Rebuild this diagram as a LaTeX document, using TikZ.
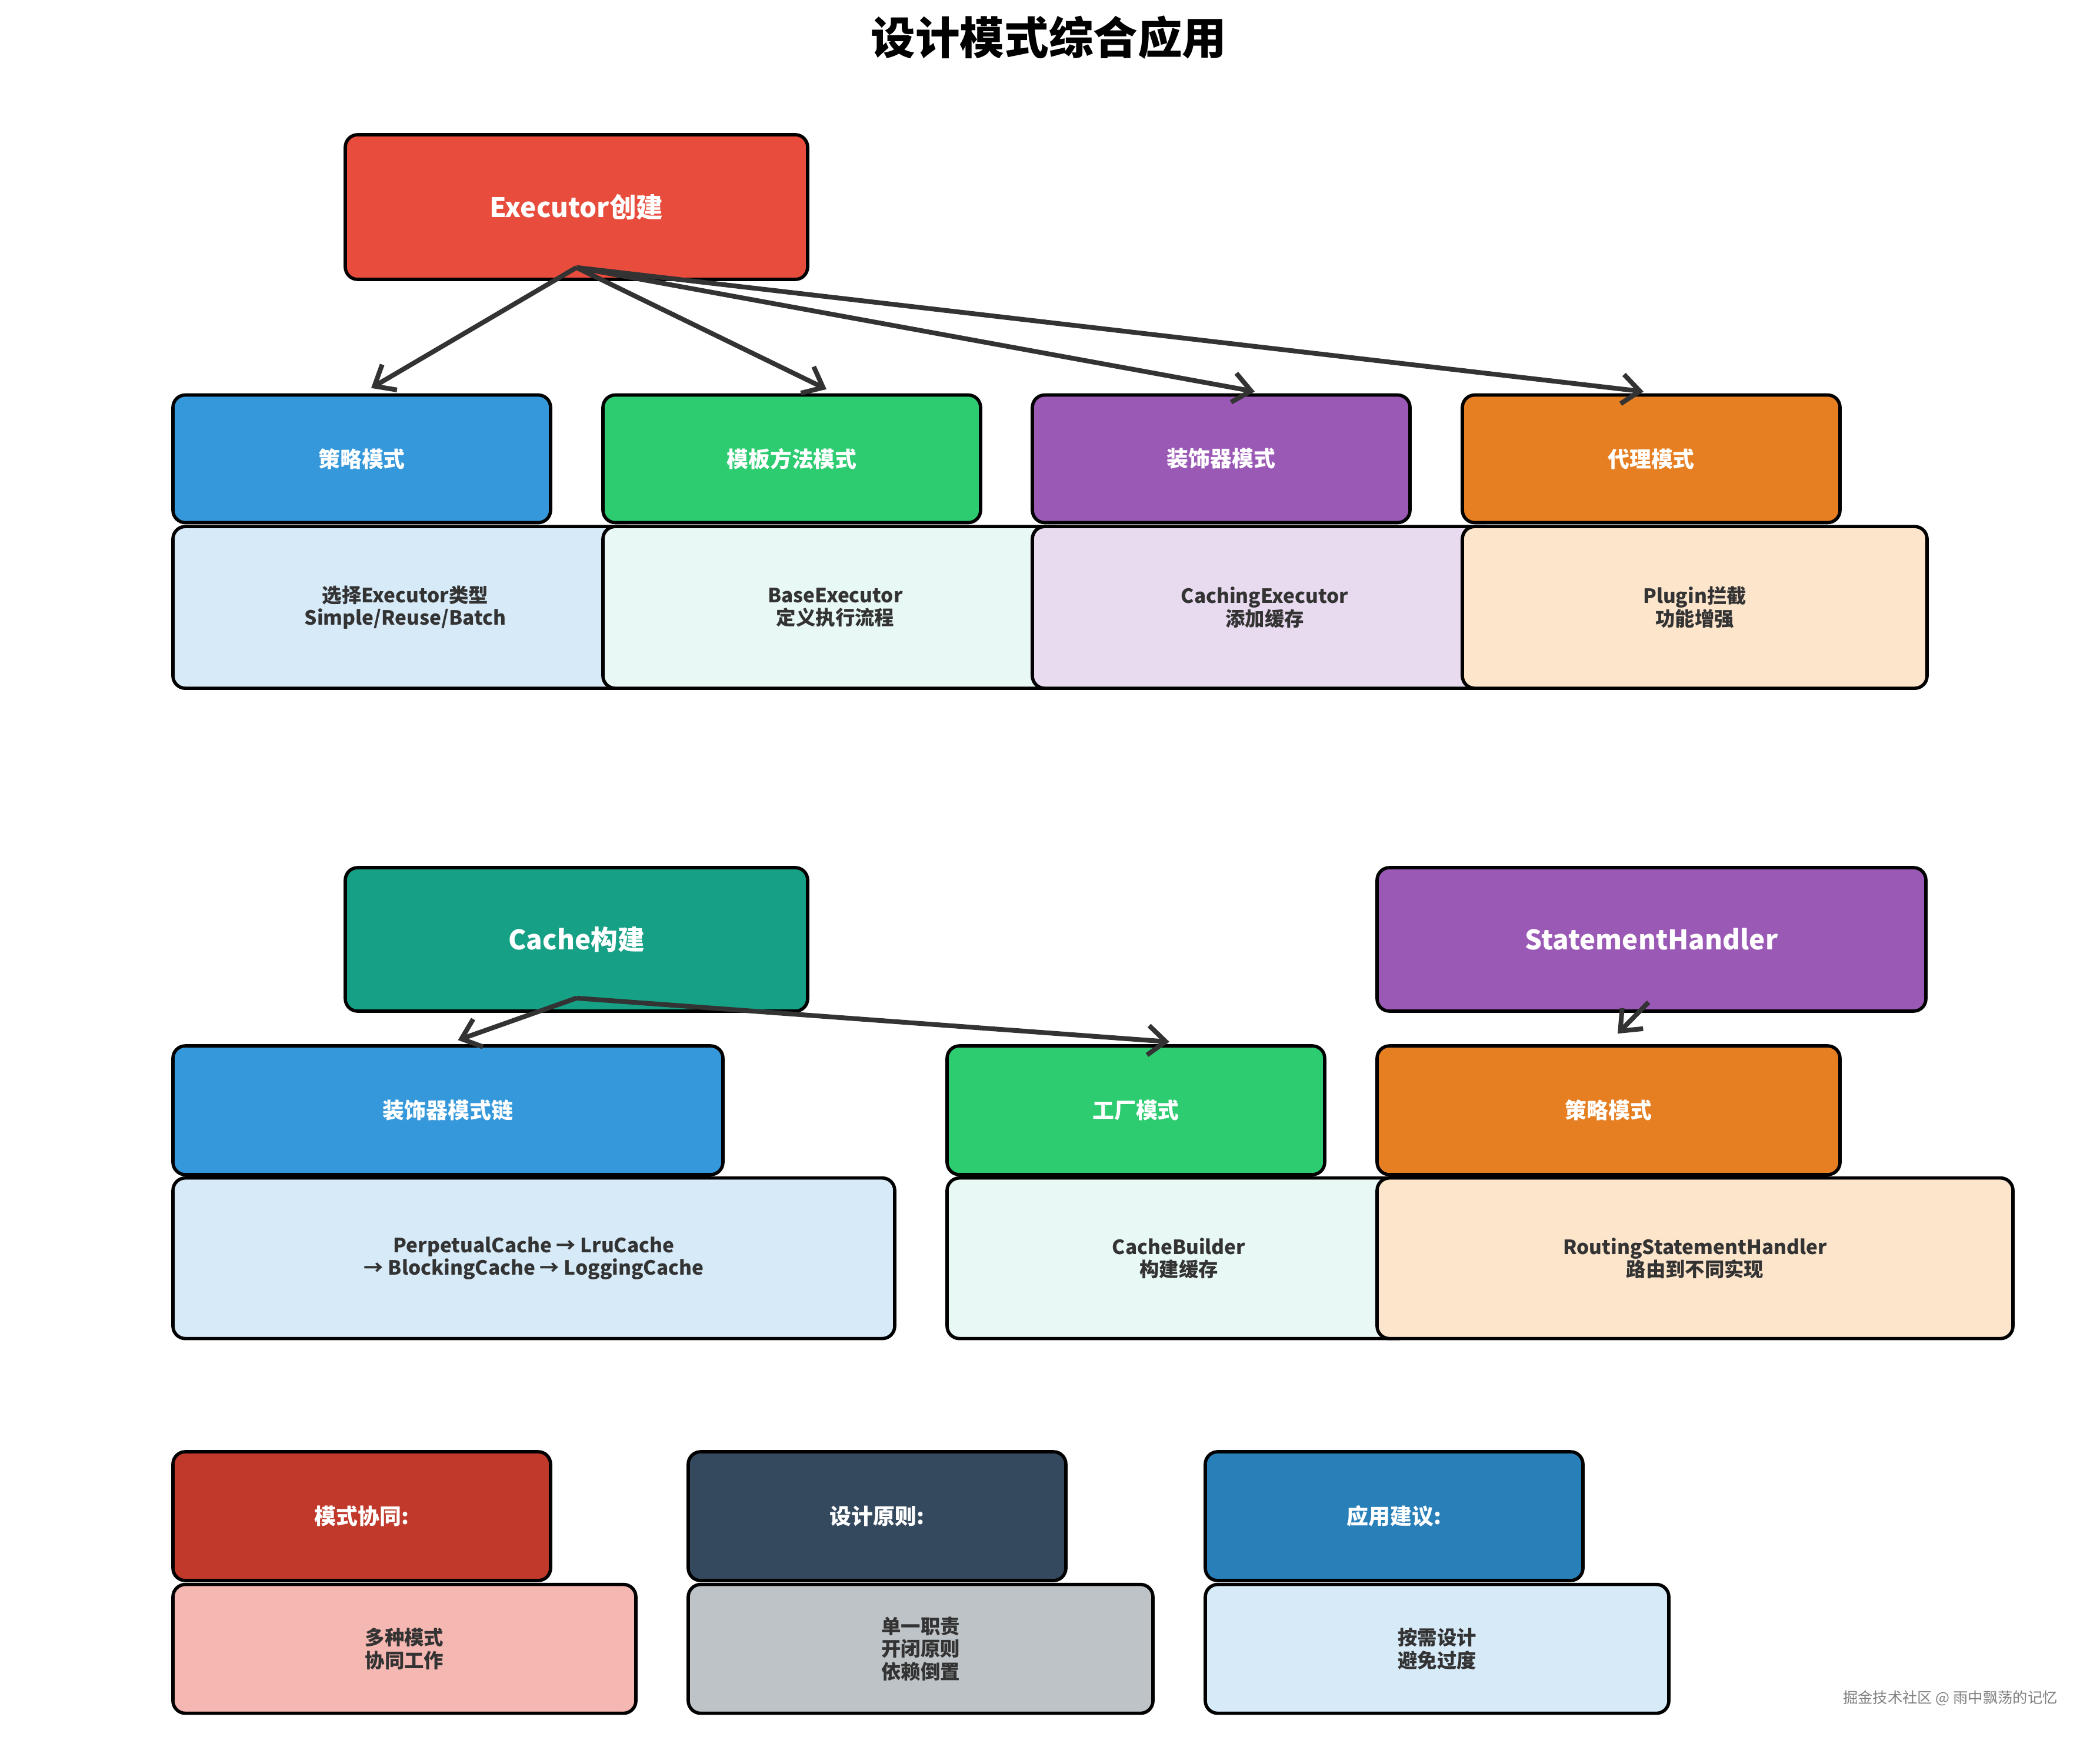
\documentclass[tikz,border=0pt]{standalone}
\usepackage{fontspec}
\setmainfont{Noto Sans CJK SC}
\usetikzlibrary{arrows.meta}

\definecolor{execred}{HTML}{E74C3C}
\definecolor{stratblue}{HTML}{3498DB}
\definecolor{tmplgreen}{HTML}{2ECC71}
\definecolor{decopurple}{HTML}{9B59B6}
\definecolor{proxyorange}{HTML}{E67E22}
\definecolor{cacheteal}{HTML}{16A085}
\definecolor{lightblue}{HTML}{D6EAF8}
\definecolor{lightgreen}{HTML}{E8F8F5}
\definecolor{lightpurple}{HTML}{E8DAEF}
\definecolor{lightorange}{HTML}{FDE5CB}
\definecolor{synred}{HTML}{C0392B}
\definecolor{prinslate}{HTML}{34495E}
\definecolor{advblue}{HTML}{2980B9}
\definecolor{lightpink}{HTML}{F5B7B1}
\definecolor{lightgray}{HTML}{BDC3C7}
\definecolor{txtgray}{HTML}{333333}
\definecolor{linkgray}{HTML}{333333}

\tikzset{
  box/.style={draw=black,line width=1.6pt,rounded corners=6pt,inner sep=0pt,align=center},
  mainbox/.style={box,text=white,font=\bfseries\fontsize{13}{15}\selectfont,minimum height=2.46cm},
  headbox/.style={box,text=white,font=\bfseries\fontsize{10.5}{12.5}\selectfont,minimum height=2.17cm},
  descbox/.style={box,text=txtgray,font=\bfseries\fontsize{9.5}{11}\selectfont,anchor=north west},
  link/.style={draw=linkgray,line width=2.3pt,-{Straight Barb[length=3mm,width=5mm,line width=2.3pt]}},
}

\begin{document}
\begin{tikzpicture}
  \fill[white] (0,0) rectangle (35.7,-29.7);
  \useasboundingbox (0,0) rectangle (35.7,-29.7);

  \node[font=\bfseries\fontsize{21.5}{25}\selectfont] (title) at (17.83,-0.64) {设计模式综合应用};

  % Executor
  \node[mainbox,fill=execred,minimum width=7.86cm] (exec) at (9.80,-3.52) {Executor创建};

  \node[headbox,fill=stratblue,minimum width=6.42cm] (strat) at (6.15,-7.80) {策略模式};
  \node[descbox,fill=lightblue,minimum width=7.90cm,minimum height=2.75cm] (stratd) at ([yshift=-0.01cm]strat.south west) {选择Executor类型\\Simple/Reuse/Batch};
  \node[headbox,fill=tmplgreen,minimum width=6.42cm] (tmpl) at (13.46,-7.80) {模板方法模式};
  \node[descbox,fill=lightgreen,minimum width=7.90cm,minimum height=2.75cm] (tmpld) at ([yshift=-0.01cm]tmpl.south west) {BaseExecutor\\定义执行流程};
  \node[headbox,fill=decopurple,minimum width=6.42cm] (deco) at (20.76,-7.80) {装饰器模式};
  \node[descbox,fill=lightpurple,minimum width=7.90cm,minimum height=2.75cm] (decod) at ([yshift=-0.01cm]deco.south west) {CachingExecutor\\添加缓存};
  \node[headbox,fill=proxyorange,minimum width=6.42cm] (proxy) at (28.07,-7.80) {代理模式};
  \node[descbox,fill=lightorange,minimum width=7.90cm,minimum height=2.75cm] (proxyd) at ([yshift=-0.01cm]proxy.south west) {Plugin拦截\\功能增强};

  \draw[link] ([yshift=0.23cm]exec.south) -- ([xshift=0.16cm,yshift=0.09cm]strat.north);
  \draw[link] ([yshift=0.23cm]exec.south) -- ([xshift=0.59cm,yshift=0.07cm]tmpl.north);
  \draw[link] ([yshift=0.23cm]exec.south) -- ([xshift=0.57cm,yshift=0.03cm]deco.north);
  \draw[link] ([yshift=0.23cm]exec.south) -- ([xshift=-0.13cm,yshift=0.03cm]proxy.north);

  % Cache and StatementHandler
  \node[mainbox,fill=cacheteal,minimum width=7.86cm,minimum height=2.44cm] (cache) at (9.80,-15.97) {Cache构建};
  \node[mainbox,fill=decopurple,minimum width=9.33cm,minimum height=2.44cm] (stmt) at (28.075,-15.97) {StatementHandler};

  \node[headbox,fill=stratblue,minimum width=9.35cm,minimum height=2.19cm] (chain) at (7.615,-18.875) {装饰器模式链};
  \node[descbox,fill=lightblue,minimum width=12.27cm,minimum height=2.73cm] (chaind) at (chain.south west) {PerpetualCache → LruCache\\→ BlockingCache → LoggingCache};
  \node[headbox,fill=tmplgreen,minimum width=6.42cm,minimum height=2.19cm] (factory) at (19.31,-18.875) {工厂模式};
  \node[descbox,fill=lightgreen,minimum width=7.88cm,minimum height=2.73cm] (factoryd) at (factory.south west) {CacheBuilder\\构建缓存};
  \node[headbox,fill=proxyorange,minimum width=7.87cm,minimum height=2.19cm] (route) at (27.345,-18.875) {策略模式};
  \node[descbox,fill=lightorange,minimum width=10.81cm,minimum height=2.73cm] (routed) at (route.south west) {RoutingStatementHandler\\路由到不同实现};

  \draw[link] ([yshift=0.25cm]cache.south) -- ([xshift=0.17cm,yshift=0.07cm]chain.north);
  \draw[link] ([yshift=0.25cm]cache.south) -- ([xshift=0.57cm,yshift=0.04cm]factory.north);
  \draw[link] ([xshift=-0.05cm,yshift=0.18cm]stmt.south) -- ([xshift=0.155cm,yshift=0.18cm]route.north);

  % summary
  \node[headbox,fill=synred,minimum width=6.42cm,minimum height=2.19cm] (synergy) at (6.15,-25.775) {模式协同:};
  \node[descbox,fill=lightpink,minimum width=7.87cm,minimum height=2.19cm] (synergyd) at ([yshift=-0.01cm]synergy.south west) {多种模式\\协同工作};
  \node[headbox,fill=prinslate,minimum width=6.42cm,minimum height=2.19cm] (principle) at (14.91,-25.775) {设计原则:};
  \node[descbox,fill=lightgray,minimum width=7.90cm,minimum height=2.19cm] (principled) at ([yshift=-0.01cm]principle.south west) {单一职责\\开闭原则\\依赖倒置};
  \node[headbox,fill=advblue,minimum width=6.42cm,minimum height=2.19cm] (advice) at (23.70,-25.775) {应用建议:};
  \node[descbox,fill=lightblue,minimum width=7.88cm,minimum height=2.19cm] (adviced) at ([yshift=-0.01cm]advice.south west) {按需设计\\避免过度};

  \node[anchor=east,text=gray,font=\fontsize{7.2}{8}\selectfont] (mark) at (35.10,-28.87) {掘金技术社区 @ 雨中飘荡的记忆};
\end{tikzpicture}
\end{document}
